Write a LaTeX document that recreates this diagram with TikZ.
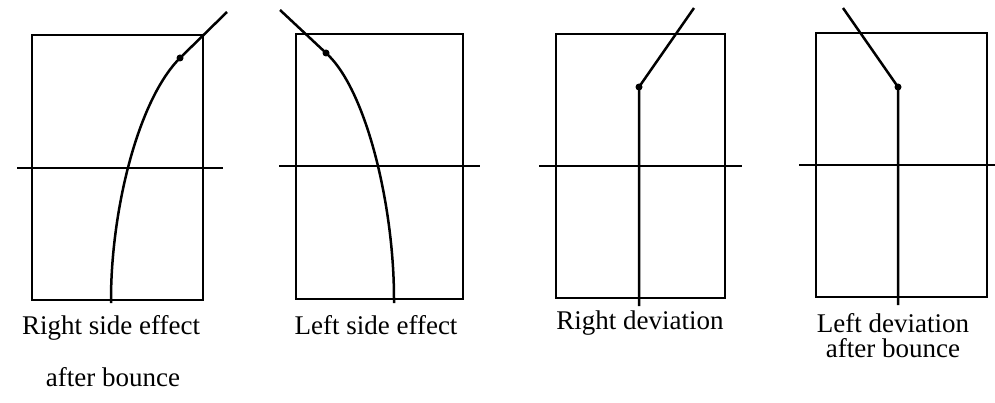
\documentclass[tikz,border=0pt]{standalone}
\usepackage{fontspec}
\setmainfont{Liberation Serif}
\begin{document}
\begin{tikzpicture}[x=1pt,y=-1pt,
  frame/.style={line width=2.3pt},
  axis/.style={line width=1.7pt},
  path/.style={line width=2.5pt},
  ball/.style={circle,fill=black,inner sep=0pt,minimum size=7pt},
  lbl/.style={font=\fontsize{27}{25}\selectfont,align=center,inner sep=0pt}]
\useasboundingbox (0,0) rectangle (995,403);
% Panel 1: Right side effect after bounce
\draw[frame] (32,35) rectangle (203,300);
\draw[axis] (17,168) -- (223,168);
\node[ball] (d1) at (180,58) {};
\coordinate (s1) at (111,303);
\coordinate (e1) at (227,12);
\draw[path] (s1) -- (111,300) .. controls (111,210) and (138,100) .. (d1.center) -- (e1);
\node[lbl] (t1) at (111,328) {Right side effect};
\node[lbl] (t1b) at (113,377) {after bounce};
% Panel 2: Left side effect
\draw[frame] (296,34) rectangle (463,299);
\draw[axis] (279,166) -- (480,166);
\node[ball] (d2) at (326,53) {};
\coordinate (s2) at (394,303);
\coordinate (e2) at (280,10);
\draw[path] (s2) -- (394,299) .. controls (394,205) and (366,89) .. (d2.center) -- (e2);
\node[lbl] (t2) at (376,325) {Left side effect};
% Panel 3: Right deviation
\draw[frame] (556,34) rectangle (725,298);
\draw[axis] (539,166) -- (742,166);
\node[ball] (d3) at (639,87) {};
\coordinate (s3) at (639,306);
\coordinate (e3) at (694,8);
\draw[path] (s3) -- (d3.center) -- (e3);
\node[lbl] (t3) at (640,323) {Right deviation};
% Panel 4: Left deviation after bounce
\draw[frame] (816,33) rectangle (987,297);
\draw[axis] (799,165) -- (995,165);
\node[ball] (d4) at (898,87) {};
\coordinate (s4) at (898,305);
\coordinate (e4) at (843,8);
\draw[path] (s4) -- (d4.center) -- (e4);
\node[lbl] (t4) at (893,336) {Left deviation\\after bounce};
\end{tikzpicture}
\end{document}
